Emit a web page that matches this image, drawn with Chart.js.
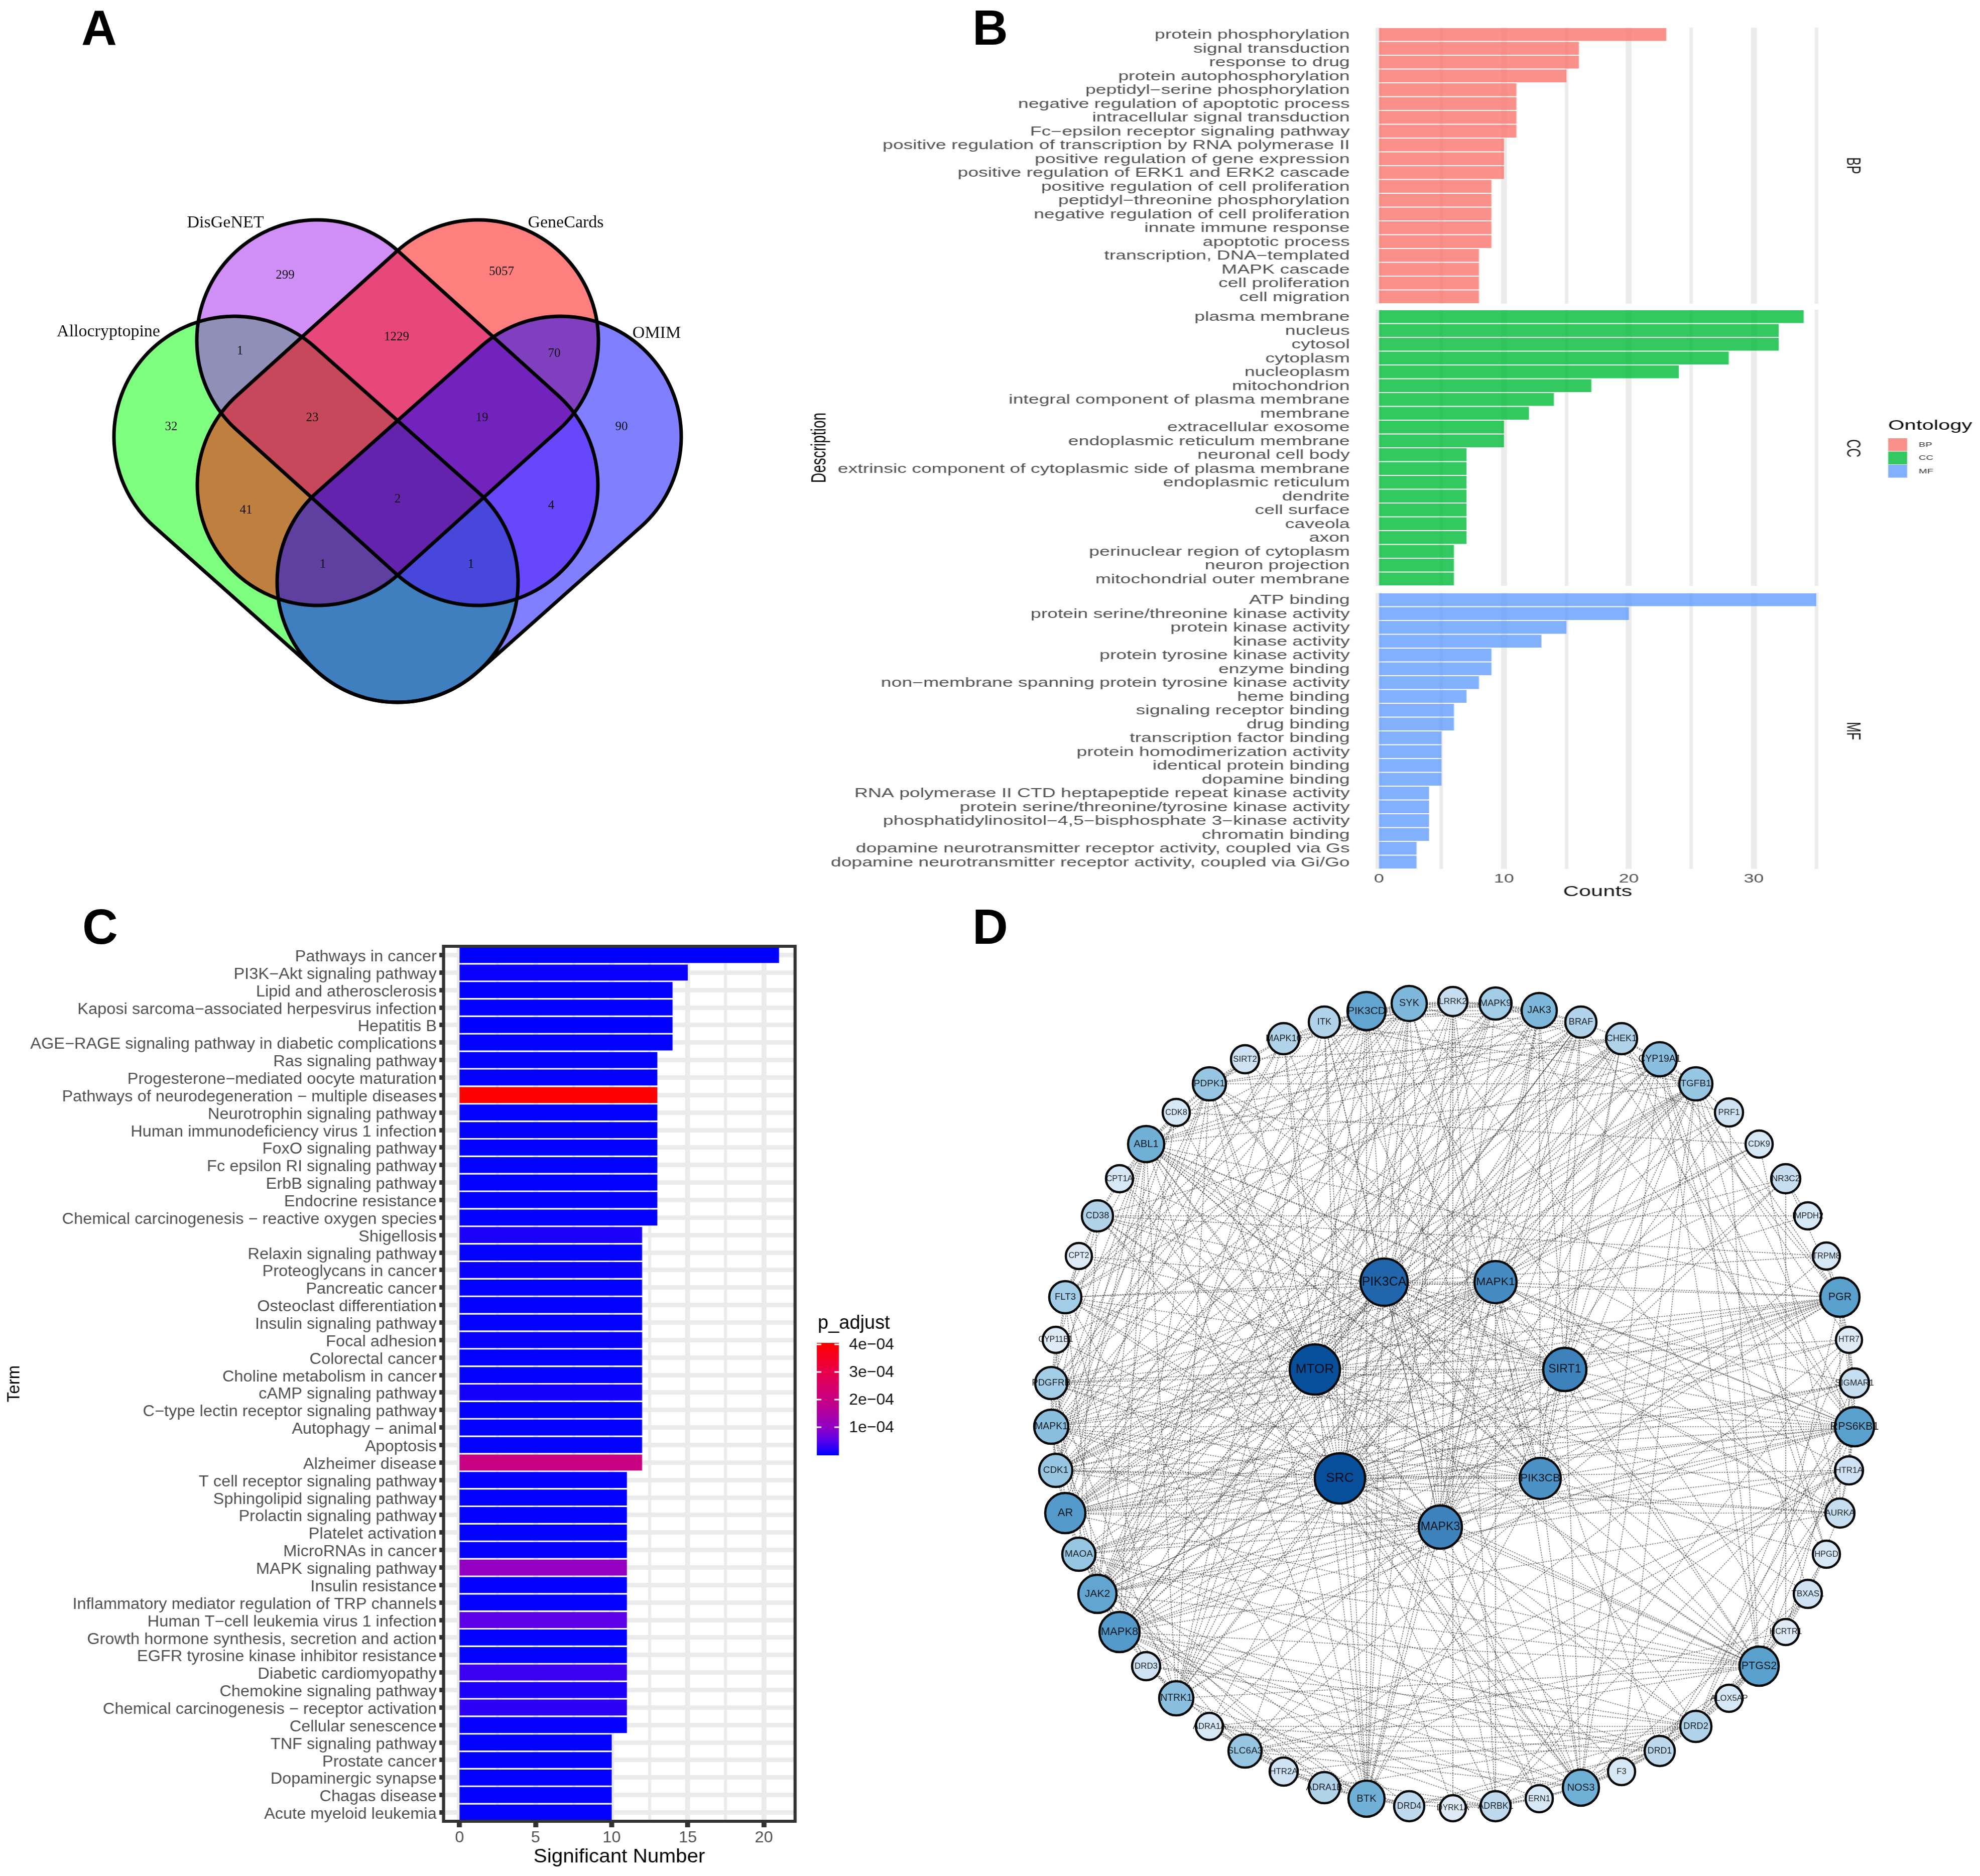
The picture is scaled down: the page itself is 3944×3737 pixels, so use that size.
<!DOCTYPE html>
<html>
<head>
<meta charset="utf-8">
<title>Allocryptopine network pharmacology</title>
<script src="https://cdn.jsdelivr.net/npm/chart.js@4"></script>
<style>
  html, body { margin: 0; background: #fff; }
  #page { position: relative; width: 3944px; height: 3737px; overflow: hidden; background: #fff; }
  #page canvas { position: absolute; transform-origin: 0 0; }
  .tag { position: absolute; font: bold 98px/1 "Liberation Sans", Arial, sans-serif; color: #000; }
</style>
</head>
<body>
<div id="page">
  <div class="tag" style="left:162px;top:6px">A</div>
  <div class="tag" style="left:1937px;top:6px">B</div>
  <div class="tag" style="left:164px;top:1797px">C</div>
  <div class="tag" style="left:1937px;top:1797px">D</div>
</div>
<script>
// ---- panel A data
const vennNames = ['Allocryptopine', 'DisGeNET', 'GeneCards', 'OMIM'];
const vennNameX = [216, 449, 1127, 1308];
const vennNameY = [661, 444, 444, 664];
const vennCounts = [299, 5057, 1, 1229, 70, 32, 23, 19, 90, 41, 2, 4, 1, 1];
const vennCountX = [568, 999, 478, 790, 1104, 341, 622, 960, 1238, 490, 792, 1098, 643, 938];
const vennCountY = [548, 541, 699, 671, 704, 850, 832, 832, 850, 1016, 994, 1007, 1124, 1124];

// ---- panel B data
const bpTerms = ['protein phosphorylation', 'signal transduction', 'response to drug', 'protein autophosphorylation',
  'peptidyl−serine phosphorylation', 'negative regulation of apoptotic process', 'intracellular signal transduction',
  'Fc−epsilon receptor signaling pathway', 'positive regulation of transcription by RNA polymerase II',
  'positive regulation of gene expression', 'positive regulation of ERK1 and ERK2 cascade',
  'positive regulation of cell proliferation', 'peptidyl−threonine phosphorylation',
  'negative regulation of cell proliferation', 'innate immune response', 'apoptotic process',
  'transcription, DNA−templated', 'MAPK cascade', 'cell proliferation', 'cell migration'];
const bpCounts = [23, 16, 16, 15, 11, 11, 11, 11, 10, 10, 10, 9, 9, 9, 9, 9, 8, 8, 8, 8];
const ccTerms = ['plasma membrane', 'nucleus', 'cytosol', 'cytoplasm', 'nucleoplasm', 'mitochondrion',
  'integral component of plasma membrane', 'membrane', 'extracellular exosome', 'endoplasmic reticulum membrane',
  'neuronal cell body', 'extrinsic component of cytoplasmic side of plasma membrane', 'endoplasmic reticulum',
  'dendrite', 'cell surface', 'caveola', 'axon', 'perinuclear region of cytoplasm', 'neuron projection',
  'mitochondrial outer membrane'];
const ccCounts = [34, 32, 32, 28, 24, 17, 14, 12, 10, 10, 7, 7, 7, 7, 7, 7, 7, 6, 6, 6];
const mfTerms = ['ATP binding', 'protein serine/threonine kinase activity', 'protein kinase activity', 'kinase activity',
  'protein tyrosine kinase activity', 'enzyme binding', 'non−membrane spanning protein tyrosine kinase activity',
  'heme binding', 'signaling receptor binding', 'drug binding', 'transcription factor binding',
  'protein homodimerization activity', 'identical protein binding', 'dopamine binding',
  'RNA polymerase II CTD heptapeptide repeat kinase activity', 'protein serine/threonine/tyrosine kinase activity',
  'phosphatidylinositol−4,5−bisphosphate 3−kinase activity', 'chromatin binding',
  'dopamine neurotransmitter receptor activity, coupled via Gs',
  'dopamine neurotransmitter receptor activity, coupled via Gi/Go'];
const mfCounts = [35, 20, 15, 13, 9, 9, 8, 7, 6, 6, 5, 5, 5, 5, 4, 4, 4, 4, 3, 3];
const ontologyNames = ['BP', 'CC', 'MF'];
const countTicks = [0, 5, 10, 15, 20, 25, 30, 35];

// ---- panel C data
const keggTerms = ['Pathways in cancer', 'PI3K−Akt signaling pathway', 'Lipid and atherosclerosis',
  'Kaposi sarcoma−associated herpesvirus infection', 'Hepatitis B', 'AGE−RAGE signaling pathway in diabetic complications',
  'Ras signaling pathway', 'Progesterone−mediated oocyte maturation', 'Pathways of neurodegeneration − multiple diseases',
  'Neurotrophin signaling pathway', 'Human immunodeficiency virus 1 infection', 'FoxO signaling pathway',
  'Fc epsilon RI signaling pathway', 'ErbB signaling pathway', 'Endocrine resistance',
  'Chemical carcinogenesis − reactive oxygen species', 'Shigellosis', 'Relaxin signaling pathway',
  'Proteoglycans in cancer', 'Pancreatic cancer', 'Osteoclast differentiation', 'Insulin signaling pathway',
  'Focal adhesion', 'Colorectal cancer', 'Choline metabolism in cancer', 'cAMP signaling pathway',
  'C−type lectin receptor signaling pathway', 'Autophagy − animal', 'Apoptosis', 'Alzheimer disease',
  'T cell receptor signaling pathway', 'Sphingolipid signaling pathway', 'Prolactin signaling pathway',
  'Platelet activation', 'MicroRNAs in cancer', 'MAPK signaling pathway', 'Insulin resistance',
  'Inflammatory mediator regulation of TRP channels', 'Human T−cell leukemia virus 1 infection',
  'Growth hormone synthesis, secretion and action', 'EGFR tyrosine kinase inhibitor resistance',
  'Diabetic cardiomyopathy', 'Chemokine signaling pathway', 'Chemical carcinogenesis − receptor activation',
  'Cellular senescence', 'TNF signaling pathway', 'Prostate cancer', 'Dopaminergic synapse', 'Chagas disease',
  'Acute myeloid leukemia'];
const keggCounts = [21, 15, 14, 14, 14, 14, 13, 13, 13, 13, 13, 13, 13, 13, 13, 13,
  12, 12, 12, 12, 12, 12, 12, 12, 12, 12, 12, 12, 12, 12,
  11, 11, 11, 11, 11, 11, 11, 11, 11, 11, 11, 11, 11, 11, 11, 10, 10, 10, 10, 10];
// p_adjust in units of 1e-4
const keggP = [0, 0.06, 0.01, 0.01, 0, 0.01, 0.01, 0.01, 4, 0.01, 0.01, 0.01, 0.01, 0.01, 0.01, 0.01,
  0.15, 0.01, 0.05, 0.01, 0.01, 0.01, 0.04, 0.01, 0.01, 0.12, 0.01, 0.01, 0.01, 2,
  0.01, 0.01, 0.01, 0.01, 0.03, 1.05, 0.01, 0.01, 0.55, 0.01, 0.01, 0.35, 0.15, 0.25, 0.03, 0.01, 0.01, 0.01, 0.01, 0.01];
const pTicks = [4, 3, 2, 1];
const significantTicks = [0, 2.5, 5, 7.5, 10, 12.5, 15, 17.5, 20];

// ---- panel D data
const nodeNames = ['PIK3CD', 'SYK', 'LRRK2', 'MAPK9', 'JAK3', 'BRAF', 'CHEK1', 'CYP19A1', 'TGFB1', 'PRF1', 'CDK9', 'NR3C2',
  'IMPDH2', 'TRPM8', 'PGR', 'HTR7', 'SIGMAR1', 'RPS6KB1', 'HTR1A', 'AURKA', 'HPGD', 'TBXAS1', 'HCRTR1', 'PTGS2',
  'ALOX5AP', 'DRD2', 'DRD1', 'F3', 'NOS3', 'ERN1', 'ADRBK1', 'DYRK1A', 'DRD4', 'BTK', 'ADRA1B', 'HTR2A', 'SLC6A3',
  'ADRA1A', 'NTRK1', 'DRD3', 'MAPK8', 'JAK2', 'MAOA', 'AR', 'CDK1', 'MAPK14', 'PDGFRB', 'CYP11B1', 'FLT3', 'CPT2',
  'CD38', 'CPT1A', 'ABL1', 'CDK8', 'PDPK1', 'SIRT2', 'MAPK10', 'ITK',
  'PIK3CA', 'MAPK1', 'MTOR', 'SIRT1', 'SRC', 'PIK3CB', 'MAPK3'];
const nodeX = [2722, 2807, 2894, 2979, 3066, 3149, 3230, 3306, 3378, 3444, 3504, 3557,
  3601, 3638, 3665, 3683, 3694, 3694, 3683, 3665, 3638, 3601, 3557, 3504,
  3444, 3378, 3306, 3230, 3149, 3066, 2979, 2894, 2807, 2722, 2638, 2557, 2480,
  2409, 2343, 2283, 2230, 2186, 2149, 2122, 2103, 2094, 2094, 2103, 2122, 2149,
  2186, 2230, 2283, 2343, 2409, 2480, 2557, 2638,
  2757, 2979, 2619, 3117, 2669, 3068, 2869];
const nodeY = [2014, 1999, 1995, 1999, 2013, 2036, 2069, 2110, 2159, 2216, 2279, 2348,
  2422, 2502, 2584, 2669, 2755, 2842, 2929, 3014, 3096, 3175, 3251, 3319,
  3383, 3439, 3488, 3529, 3561, 3583, 3598, 3602, 3598, 3583, 3561, 3529, 3488,
  3439, 3383, 3319, 3251, 3175, 3096, 3014, 2929, 2842, 2755, 2669, 2584, 2502,
  2422, 2348, 2279, 2216, 2159, 2110, 2069, 2036,
  2554, 2554, 2728, 2728, 2945, 2945, 3042];
const nodeDegree = [28, 22, 10, 16, 22, 14, 14, 20, 18, 8, 6, 10,
  6, 6, 30, 4, 10, 30, 8, 10, 6, 8, 4, 30,
  6, 14, 12, 6, 24, 6, 12, 4, 12, 24, 14, 8, 18,
  6, 20, 8, 32, 28, 18, 32, 18, 20, 16, 4, 16, 4,
  14, 6, 24, 6, 18, 8, 14, 14,
  46, 36, 52, 38, 52, 34, 38];
// neighbours
const nodeLinks = {
  SRC: 'MTOR PIK3CA MAPK1 SIRT1 PIK3CB MAPK3 ABL1 PDGFRB FLT3 AR CDK1 MAPK14 JAK2 MAPK8 NTRK1 BTK SYK PIK3CD ITK JAK3 PDPK1 TGFB1 PGR RPS6KB1 PTGS2 NOS3 CD38 BRAF CHEK1 AURKA ADRBK1 DRD2 HTR1A ADRA1A SLC6A3 F3 MAOA MAPK9 MAPK10 SIGMAR1 ERN1 LRRK2 CYP19A1 DYRK1A CDK9 HTR7',
  MTOR: 'PIK3CA MAPK1 SIRT1 PIK3CB MAPK3 PDPK1 RPS6KB1 AR PGR CDK1 AURKA BRAF CHEK1 JAK2 MAPK8 MAPK14 ABL1 PDGFRB FLT3 NOS3 PTGS2 TGFB1 SIRT2 CDK8 CDK9 PIK3CD SYK JAK3 BTK NTRK1 CPT1A MAPK9 MAPK10 LRRK2 ERN1 IMPDH2 HTR7 CD38 CYP19A1',
  PIK3CA: 'MAPK1 SIRT1 PIK3CB MAPK3 PDPK1 PDGFRB FLT3 ABL1 AR JAK2 JAK3 BTK SYK ITK NTRK1 PGR RPS6KB1 NOS3 PTGS2 TGFB1 CDK1 BRAF MAPK8 MAPK14 CHEK1 PIK3CD MAPK9 MAPK10 CD38 CPT2 ERN1 AURKA SIGMAR1 TRPM8 NR3C2 DRD2',
  MAPK1: 'SIRT1 PIK3CB MAPK3 PGR RPS6KB1 AR BRAF CDK1 MAPK8 JAK2 JAK3 PDGFRB SYK BTK NOS3 PTGS2 TGFB1 FLT3 MAPK14 NTRK1 PRF1 CHEK1 CDK9 ABL1 ADRBK1 HTR1A DRD1 MAOA ITK LRRK2 CYP19A1',
  SIRT1: 'PIK3CB MAPK3 PGR RPS6KB1 AR CDK1 MAPK8 JAK2 PTGS2 NOS3 BRAF CHEK1 AURKA TGFB1 PDGFRB MAPK14 CYP19A1 MAOA FLT3 CD38 NR3C2 SIRT2 JAK3 BTK ABL1 CPT1A CPT2',
  PIK3CB: 'MAPK3 AR RPS6KB1 PGR JAK2 BTK PDGFRB FLT3 NTRK1 SYK PIK3CD JAK3 ITK ABL1 NOS3 PDPK1 CDK1 MAPK8 MAPK14 BRAF CHEK1 TGFB1 HPGD',
  MAPK3: 'AR RPS6KB1 PGR BRAF CDK1 MAPK8 JAK2 JAK3 PDGFRB SYK BTK NOS3 PTGS2 TGFB1 FLT3 MAPK14 NTRK1 PIK3CD CHEK1 CYP19A1 LRRK2 ITK MAOA DRD2 SLC6A3 ABL1 MAPK9 ADRBK1 PRF1',
  PGR: 'NR3C2 TRPM8 HTR7 CDK1 CYP19A1 TGFB1 AURKA JAK2 MAPK8 PTGS2 CHEK1 RPS6KB1 MAOA AR PDGFRB ABL1 MAPK14 SIGMAR1',
  RPS6KB1: 'AR CDK1 AURKA PDPK1 JAK2 BRAF NOS3 MAPK8 HTR1A SIGMAR1 PTGS2 TGFB1 ABL1 MAPK14 MAPK9 PDGFRB CHEK1 ADRBK1 DRD1',
  PTGS2: 'TBXAS1 HCRTR1 HPGD ALOX5AP DRD2 NOS3 AR CD38 MAOA F3 MAPK8 MAPK14 TGFB1 CYP19A1 JAK2 SLC6A3 DRD1 ADRA1A NTRK1 PRF1 ABL1 CYP11B1',
  AR: 'AURKA CDK1 PDPK1 ABL1 JAK2 MAPK8 MAOA CYP19A1 TGFB1 CHEK1 NR3C2 MAPK14 SIGMAR1 BRAF HTR7 SYK CYP11B1 PIK3CD',
  JAK2: 'JAK3 SYK PDGFRB FLT3 ABL1 PIK3CD BTK MAPK14 MAPK8 NTRK1 HTR1A TGFB1 NOS3 ITK MAPK9 CDK8 LRRK2',
  MAPK8: 'BRAF MAPK14 MAPK10 MAPK9 TGFB1 NOS3 ABL1 DRD2 ERN1 PDPK1 CHEK1 AURKA NTRK1 BTK DRD1 ADRBK1',
  NTRK1: 'PIK3CD FLT3 ABL1 BTK BRAF SYK PDPK1 ADRBK1 PDGFRB ITK',
  BTK: 'ADRBK1 SYK ITK PIK3CD LRRK2 JAK3 ABL1 FLT3 ADRA1B HTR2A DRD4 PDPK1 DYRK1A',
  NOS3: 'F3 DRD1 DRD2 MAPK14 TGFB1 CD38 ADRBK1 ERN1 ADRA1A SLC6A3 CYP19A1 TBXAS1 CPT1A',
  DRD2: 'DRD1 DRD3 DRD4 SLC6A3 ADRA1A ADRA1B HTR2A HTR1A HTR7 MAOA ADRBK1 SIGMAR1 HCRTR1 ALOX5AP F3 TBXAS1',
  DRD1: 'SLC6A3 DRD3 ADRBK1 DRD4 HTR1A MAOA ADRA1A F3',
  SLC6A3: 'DRD3 DRD4 MAOA HTR2A HTR1A TRPM8 ADRA1A ADRA1B HCRTR1',
  HTR1A: 'HTR2A HTR7 MAOA SIGMAR1 AURKA ADRA1B',
  HTR2A: 'HTR7 MAOA ADRA1A ADRA1B ADRBK1 DRD3',
  ADRA1B: 'ADRA1A ADRBK1 DRD4 MAOA',
  TGFB1: 'PDPK1 PRF1 CYP19A1 CDK1 HPGD ABL1 SYK MAPK14 CHEK1 ITK MAPK9 F3',
  ABL1: 'CPT1A CD38 CDK8 CDK1 SYK PDGFRB FLT3 PDPK1 MAPK14 CHEK1 SIRT2 BRAF JAK3 HCRTR1 TBXAS1',
  PDPK1: 'SIRT2 CDK1 MAPK14 CHEK1 PIK3CD BRAF AURKA CDK8 MAPK10',
  PIK3CD: 'ITK SYK JAK3 LRRK2 MAPK9 FLT3 MAPK10 BRAF PDGFRB HCRTR1',
  SYK: 'LRRK2 MAPK9 JAK3 ITK FLT3 PDGFRB MAPK14 HPGD',
  JAK3: 'MAPK9 BRAF ITK PDGFRB FLT3 LRRK2',
  MAPK9: 'LRRK2 BRAF MAPK10 MAPK14 CDK1 ITK',
  BRAF: 'CHEK1 MAPK14 CDK1 MAPK10 FLT3',
  CHEK1: 'CDK1 CYP19A1 AURKA CDK8 MAPK14 SIRT2',
  CYP19A1: 'CYP11B1 CD38 HPGD TBXAS1 MAOA HTR7',
  CDK1: 'CDK8 CDK9 AURKA MAPK14 MAPK10 PDGFRB PRF1',
  MAPK14: 'MAPK10 CD38 PDGFRB CDK8 DRD3 FLT3',
  PDGFRB: 'FLT3 CYP11B1 CPT2',
  FLT3: 'CPT2 CD38 ITK',
  CD38: 'CPT1A CPT2 IMPDH2 TRPM8',
  MAOA: 'DRD3 DRD4 CD38 SIGMAR1',
  AURKA: 'HTR1A TBXAS1 CDK9',
  SIGMAR1: 'HTR7 DRD3 HCRTR1 TRPM8',
  NR3C2: 'IMPDH2 HCRTR1 ADRA1A',
  ITK: 'MAPK10 PRF1',
  LRRK2: 'ADRBK1 DYRK1A MAPK10',
  ADRBK1: 'DYRK1A HTR7 ERN1',
  TBXAS1: 'HPGD HCRTR1 ALOX5AP',
  SIRT2: 'MAPK10 CPT1A',
  ERN1: 'F3 DYRK1A',
  CDK8: 'CDK9'
};

// ---- helpers
Chart.defaults.font.family = '"Liberation Sans", Arial, sans-serif';
Chart.defaults.animation = false;
Chart.defaults.events = [];
Chart.defaults.plugins.legend.display = false;
Chart.defaults.plugins.tooltip.enabled = false;

const page = document.getElementById('page');
function addCanvas(left, top, width, height, k) {
  const c = document.createElement('canvas');
  c.width = Math.round(width / k);
  c.height = height;
  c.style.left = left + 'px';
  c.style.top = top + 'px';
  c.style.transform = 'scaleX(' + k + ')';
  page.appendChild(c);
  return c;
}
// draws in page coordinates on top of a chart whose canvas is stretched by k
function pagePlugin(left, top, k, draw) {
  return {
    id: 'pageOverlay',
    afterDraw(chart) {
      const ctx = chart.ctx;
      ctx.save();
      ctx.scale(1 / k, 1);
      ctx.translate(-left, -top);
      draw(ctx);
      ctx.restore();
    }
  };
}
function label(ctx, text, x, y, font, color, align, hs, angle) {
  ctx.save();
  ctx.translate(x, y);
  ctx.scale(hs || 1, 1);
  if (angle) ctx.rotate(angle);
  ctx.font = font;
  ctx.fillStyle = color;
  ctx.textAlign = align || 'center';
  ctx.textBaseline = 'middle';
  ctx.fillText(text, 0, 0);
  ctx.restore();
}
function mixStops(stops, v) {
  if (v <= stops[0][0]) return stops[0].slice(1);
  for (let i = 1; i < stops.length; i++) {
    if (v <= stops[i][0]) {
      const t = (v - stops[i - 1][0]) / (stops[i][0] - stops[i - 1][0]);
      return [1, 2, 3].map(j => Math.round(stops[i - 1][j] + t * (stops[i][j] - stops[i - 1][j])));
    }
  }
  return stops[stops.length - 1].slice(1);
}
// vertical axes add the tick padding above and below the plot, which we don't want here
function fixVerticalAxis(s, width) {
  s.width = width;
  s.paddingTop = 0;
  s.paddingBottom = 0;
}
const useTicks = list => s => { s.ticks = list.map(value => ({ value })); };
// a base that is not exactly a tick stops Chart.js trimming half a grid line off the bar
const barBase = 1e-6;

// ---- panel A: venn
const vennCaps = [ // two cap centres of each rounded set, drawing order matters for the blend
  { fill: 'rgba(0,255,0,0.5)', a: [467, 870], b: [792, 1159] },
  { fill: 'rgba(160,32,240,0.5)', a: [632, 678], b: [951, 966] },
  { fill: 'rgba(255,0,0,0.5)', a: [952, 678], b: [633, 966] },
  { fill: 'rgba(0,0,255,0.5)', a: [1117, 870], b: [792, 1159] }
];
new Chart(addCanvas(100, 380, 1400, 1060, 1), {
  type: 'scatter',
  data: {
    datasets: [{
      data: vennCounts.map((c, i) => ({ x: vennCountX[i], y: vennCountY[i] })),
      pointRadius: 0
    }]
  },
  options: {
    responsive: false,
    layout: { padding: 0, autoPadding: false },
    scales: {
      x: { display: false, min: 100, max: 1500 },
      y: { display: false, min: 380, max: 1440, reverse: true }
    }
  },
  plugins: [{
    id: 'venn',
    beforeDatasetsDraw(chart) {
      const ctx = chart.ctx, sx = chart.scales.x, sy = chart.scales.y;
      const r = sx.getPixelForValue(340) - sx.getPixelForValue(100);
      const path = s => {
        const ax = sx.getPixelForValue(s.a[0]), ay = sy.getPixelForValue(s.a[1]);
        const bx = sx.getPixelForValue(s.b[0]), by = sy.getPixelForValue(s.b[1]);
        const t = Math.atan2(by - ay, bx - ax);
        ctx.beginPath();
        ctx.arc(ax, ay, r, t + Math.PI / 2, t + 1.5 * Math.PI);
        ctx.arc(bx, by, r, t - Math.PI / 2, t + Math.PI / 2);
        ctx.closePath();
      };
      vennCaps.forEach(s => { path(s); ctx.fillStyle = s.fill; ctx.fill(); });
      ctx.strokeStyle = '#000';
      ctx.lineWidth = 7;
      vennCaps.forEach(s => { path(s); ctx.stroke(); });
      vennCounts.forEach((c, i) => label(ctx, String(c), sx.getPixelForValue(vennCountX[i]),
        sy.getPixelForValue(vennCountY[i]), '25px "Liberation Serif"', '#111'));
      vennNames.forEach((n, i) => label(ctx, n, sx.getPixelForValue(vennNameX[i]),
        sy.getPixelForValue(vennNameY[i]), '34px "Liberation Serif"', '#111'));
    }
  }]
});

// ---- panel B: three facets
const ontoFill = ['rgba(248,118,109,0.8)', 'rgba(0,186,56,0.8)', 'rgba(97,156,255,0.8)'];
const bK = 1.495, bLeft = 1607;
function facet(i, terms, counts, top, height, padTop, padBottom, extra) {
  const isLast = i === 2;
  const canvas = addCanvas(bLeft, top, 3944 - bLeft, height, bK);
  return new Chart(canvas, {
    type: 'bar',
    data: {
      labels: terms,
      datasets: [{ data: counts, base: barBase, backgroundColor: ontoFill[i], barPercentage: 0.92, categoryPercentage: 1 }]
    },
    options: {
      indexAxis: 'y',
      responsive: false,
      layout: { padding: { left: 0, right: (3944 - 3627) / bK, top: padTop, bottom: padBottom } },
      scales: {
        x: {
          min: -0.36, max: 35.36,
          afterBuildTicks: useTicks(countTicks),
          border: { display: false },
          grid: {
            color: '#EBEBEB',
            lineWidth: c => (c.tick && c.tick.value % 10 === 0 ? 12 : 7) / bK,
            drawTicks: false
          },
          ticks: {
            display: isLast, autoSkip: false, maxRotation: 0,
            padding: 6, color: '#4D4D4D', font: { size: 24 },
            callback: v => (v % 10 === 0 ? v : '')
          },
          title: { display: isLast, text: 'Counts', color: '#111', font: { size: 29 }, padding: 0 },
          afterFit: s => { s.height = isLast ? 63 : 0; }
        },
        y: {
          border: { display: false },
          grid: { display: false, drawTicks: false },
          ticks: { autoSkip: false, padding: 33, labelOffset: 1.5, color: '#4D4D4D', font: { size: 25 } },
          title: { display: i === 1, text: 'Description', color: '#000', font: { size: 28 }, padding: 0 },
          afterFit: s => fixVerticalAxis(s, (2738 - bLeft) / bK)
        }
      }
    },
    plugins: [pagePlugin(bLeft, top, bK, ctx => {
      const stripY = [330, 893, 1456][i];
      label(ctx, ontologyNames[i], 3690, stripY, '25px "Liberation Sans"', '#1a1a1a', 'center', bK, Math.PI / 2);
      if (extra) extra(ctx);
    })]
  });
}
facet(0, bpTerms, bpCounts, 40, 570, 15, 5);
facet(1, ccTerms, ccCounts, 604, 570, 13, 7, ctx => {
  label(ctx, 'Ontology', 3761, 848, '28px "Liberation Sans"', '#000', 'left', bK);
  ontologyNames.forEach((n, j) => {
    const y = 873 + j * 26.5;
    ctx.fillStyle = ontoFill[j];
    ctx.fillRect(3761, y, 38, 25.5);
    label(ctx, n, 3822, y + 13, '13.5px "Liberation Sans"', '#333', 'left', bK);
  });
});
facet(2, mfTerms, mfCounts, 1168, 626, 13, 0);

// ---- panel C
const pStops = [[0, 0, 0, 255], [0.5, 85, 0, 235], [1, 145, 0, 196], [2, 200, 0, 130], [3, 232, 0, 75], [4, 255, 0, 0]];
const cK = 1.05, cLeft = 8, cTop = 1860;
new Chart(addCanvas(cLeft, cTop, 1850 - cLeft, 1862, cK), {
  type: 'bar',
  data: {
    labels: keggTerms,
    datasets: [{
      data: keggCounts,
      base: barBase,
      backgroundColor: keggP.map(p => 'rgb(' + mixStops(pStops, p).join(',') + ')'),
      barPercentage: 0.91,
      categoryPercentage: 1
    }]
  },
  options: {
    indexAxis: 'y',
    responsive: false,
    layout: { padding: { left: 0, right: (1850 - 1584) / cK, top: 25, bottom: 0 } },
    scales: {
      x: {
        min: -1.05, max: 22.05,
        afterBuildTicks: useTicks(significantTicks),
        border: { display: false },
        grid: {
          color: '#EBEBEB',
          lineWidth: c => (c.tick && c.tick.value % 5 === 0 ? 10 : 6) / cK,
          tickColor: '#333',
          tickWidth: c => (c.tick && c.tick.value % 5 === 0 ? 10 / cK : 0),
          tickLength: 12
        },
        ticks: {
          autoSkip: false, maxRotation: 0, padding: 3,
          color: '#4D4D4D', font: { size: 31 },
          callback: v => (v % 5 === 0 ? v : '')
        },
        title: { display: true, text: 'Significant Number', color: '#000', font: { size: 38.5 }, padding: 0 },
        afterFit: s => { s.height = 94; }
      },
      y: {
        border: { display: false },
        grid: { offset: false, color: '#EBEBEB', lineWidth: 9, tickColor: '#333', tickWidth: 9, tickLength: 8 },
        ticks: { autoSkip: false, padding: 5, labelOffset: 4, color: '#4D4D4D', font: { size: 31 } },
        title: { display: true, text: 'Term', color: '#000', font: { size: 33 }, padding: 0 },
        afterFit: s => fixVerticalAxis(s, (883.5 - cLeft) / cK)
      }
    }
  },
  plugins: [{
    id: 'frame',
    afterDatasetsDraw(chart) {
      const a = chart.chartArea, ctx = chart.ctx;
      ctx.save();
      ctx.strokeStyle = '#333';
      ctx.lineWidth = 6;
      ctx.strokeRect(a.left, a.top, a.right - a.left, a.bottom - a.top);
      ctx.restore();
    }
  }, pagePlugin(cLeft, cTop, cK, ctx => {
    const barTop = 2675, barBottom = 2899, oneUnit = 55;
    const g = ctx.createLinearGradient(0, barBottom, 0, barTop);
    pStops.forEach(s => g.addColorStop(s[0] / 4.05, 'rgb(' + s.slice(1).join(',') + ')'));
    g.addColorStop(1, 'rgb(255,0,0)');
    ctx.fillStyle = g;
    ctx.fillRect(1627, barTop, 44, barBottom - barTop);
    label(ctx, 'p_adjust', 1629, 2637, '38px "Liberation Sans"', '#000', 'left');
    pTicks.forEach(v => {
      const y = barBottom - v * oneUnit - 1;
      ctx.fillStyle = '#fff';
      ctx.fillRect(1627, y - 1.5, 9, 3);
      ctx.fillRect(1662, y - 1.5, 9, 3);
      label(ctx, v + 'e−04', 1781, y + 1, '32px "Liberation Sans"', '#111', 'right');
    });
  })]
});

// ---- panel D: network, data coordinates are the picture's own pixels
const nodeIndex = {};
nodeNames.forEach((n, i) => { nodeIndex[n] = i; });
const nodePoint = n => ({ x: nodeX[nodeIndex[n]], y: nodeY[nodeIndex[n]] });
const edgeSeen = new Set();
const edgeDatasets = [];
Object.keys(nodeLinks).forEach(a => {
  nodeLinks[a].split(' ').forEach(b => {
    const key = a < b ? a + '|' + b : b + '|' + a;
    if (a === b || edgeSeen.has(key)) return;
    edgeSeen.add(key);
    edgeDatasets.push({
      type: 'line',
      data: [nodePoint(a), nodePoint(b)],
      borderColor: 'rgba(60,60,60,0.62)',
      borderWidth: 1.7,
      borderDash: [3, 2],
      pointRadius: 0,
      order: 2
    });
  });
});
const nodeBlues = [[26, 222, 235, 247], [30, 190, 217, 238], [33, 150, 198, 226], [36, 112, 175, 214], [39, 90, 160, 205],
  [43, 62, 130, 188], [47, 33, 102, 172], [50, 8, 79, 155]];
const nodeRadius = nodeDegree.map(d => 24 + d / 2);
new Chart(addCanvas(1960, 1940, 1984, 1760, 1), {
  type: 'bubble',
  data: {
    datasets: edgeDatasets.concat([{
      type: 'bubble',
      data: nodeNames.map((n, i) => ({ x: nodeX[i], y: nodeY[i], r: nodeRadius[i] })),
      backgroundColor: nodeRadius.map(r => 'rgb(' + mixStops(nodeBlues, r).join(',') + ')'),
      borderColor: '#0a0a0a',
      borderWidth: 4.5,
      order: 1
    }])
  },
  options: {
    responsive: false,
    layout: { padding: 0, autoPadding: false },
    scales: {
      x: { display: false, min: 1960, max: 3944 },
      y: { display: false, min: 1940, max: 3700, reverse: true }
    }
  },
  plugins: [{
    id: 'nodeLabels',
    afterDatasetsDraw(chart) {
      const ctx = chart.ctx, sx = chart.scales.x, sy = chart.scales.y;
      nodeNames.forEach((n, i) => {
        const text = n === 'MAPK14' ? 'MAPK1' : n;
        const size = 16.5 + (nodeRadius[i] - 27) * 0.42;
        label(ctx, text, sx.getPixelForValue(nodeX[i]), sy.getPixelForValue(nodeY[i]),
          size.toFixed(1) + 'px "Liberation Sans"', 'rgba(0,0,0,0.85)');
      });
    }
  }]
});
</script>
</body>
</html>
